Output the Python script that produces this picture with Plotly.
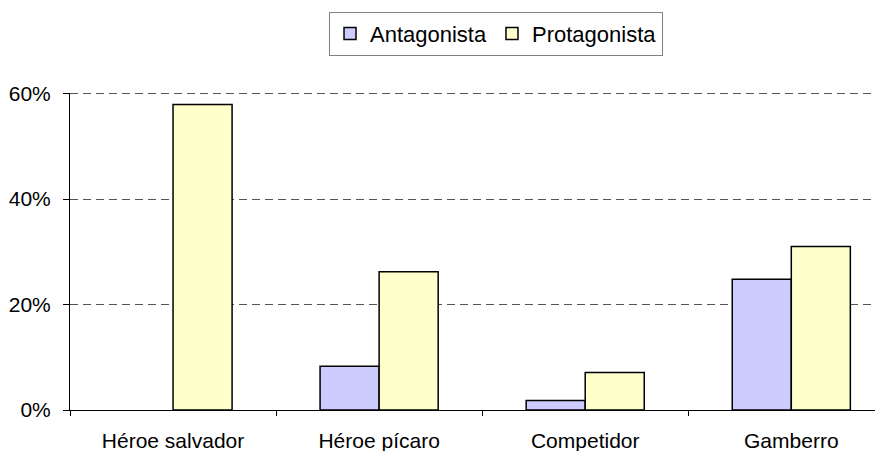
import plotly.graph_objects as go

categories = ["Héroe salvador", "Héroe pícaro", "Competidor", "Gamberro"]
antagonista = [0.0, 0.083, 0.018, 0.248]
protagonista = [0.579, 0.262, 0.071, 0.310]
y_ticks = [0, 0.2, 0.4, 0.6]

def drawn(values):
    # a zero-height bar shows no outline in the reference
    return [v if v != 0 else None for v in values]

fig = go.Figure()
fig.add_trace(go.Bar(name="Antagonista", x=categories, y=drawn(antagonista),
                     marker=dict(color="#CCCCFF", line=dict(color="black", width=1.5))))
fig.add_trace(go.Bar(name="Protagonista", x=categories, y=drawn(protagonista),
                     marker=dict(color="#FFFFCC", line=dict(color="black", width=1.5))))

# top gridline (plotly omits a gridline lying on the plot edge)
fig.add_shape(type="line", xref="paper", x0=0, x1=1, yref="y",
              y0=y_ticks[-1], y1=y_ticks[-1], layer="below",
              line=dict(color="#555555", width=1, dash="8px,5px"))

# page body has an 8px default margin, so the figure is sized to fit
fig.update_layout(
    width=875, height=443,
    margin=dict(l=62, r=0, t=85, b=41, autoexpand=False),
    paper_bgcolor="white", plot_bgcolor="white",
    barmode="group", bargap=0.427, bargroupgap=0,
    font=dict(family="Liberation Sans, Arial, sans-serif", size=21, color="black"),
    legend=dict(orientation="h", x=0.524, xanchor="center", y=1.2565, yanchor="top",
                bordercolor="#808080", borderwidth=1, font=dict(size=22),
                itemwidth=30, tracegroupgap=0),
    xaxis=dict(range=[-0.5, 3.445], showline=True, linecolor="black", linewidth=1,
               ticks="outside", tickson="boundaries", ticklen=5, tickcolor="black",
               ticklabelstandoff=12, showgrid=False, fixedrange=True),
    yaxis=dict(range=[0, 0.601], tickvals=y_ticks, tickformat=".0%",
               showline=True, linecolor="black", linewidth=1,
               ticks="outside", ticklen=6, tickcolor="black",
               showgrid=True, gridcolor="#555555", griddash="8px,5px", gridwidth=1,
               zeroline=False, ticklabelstandoff=8),
)

fig.write_html("out.html")
